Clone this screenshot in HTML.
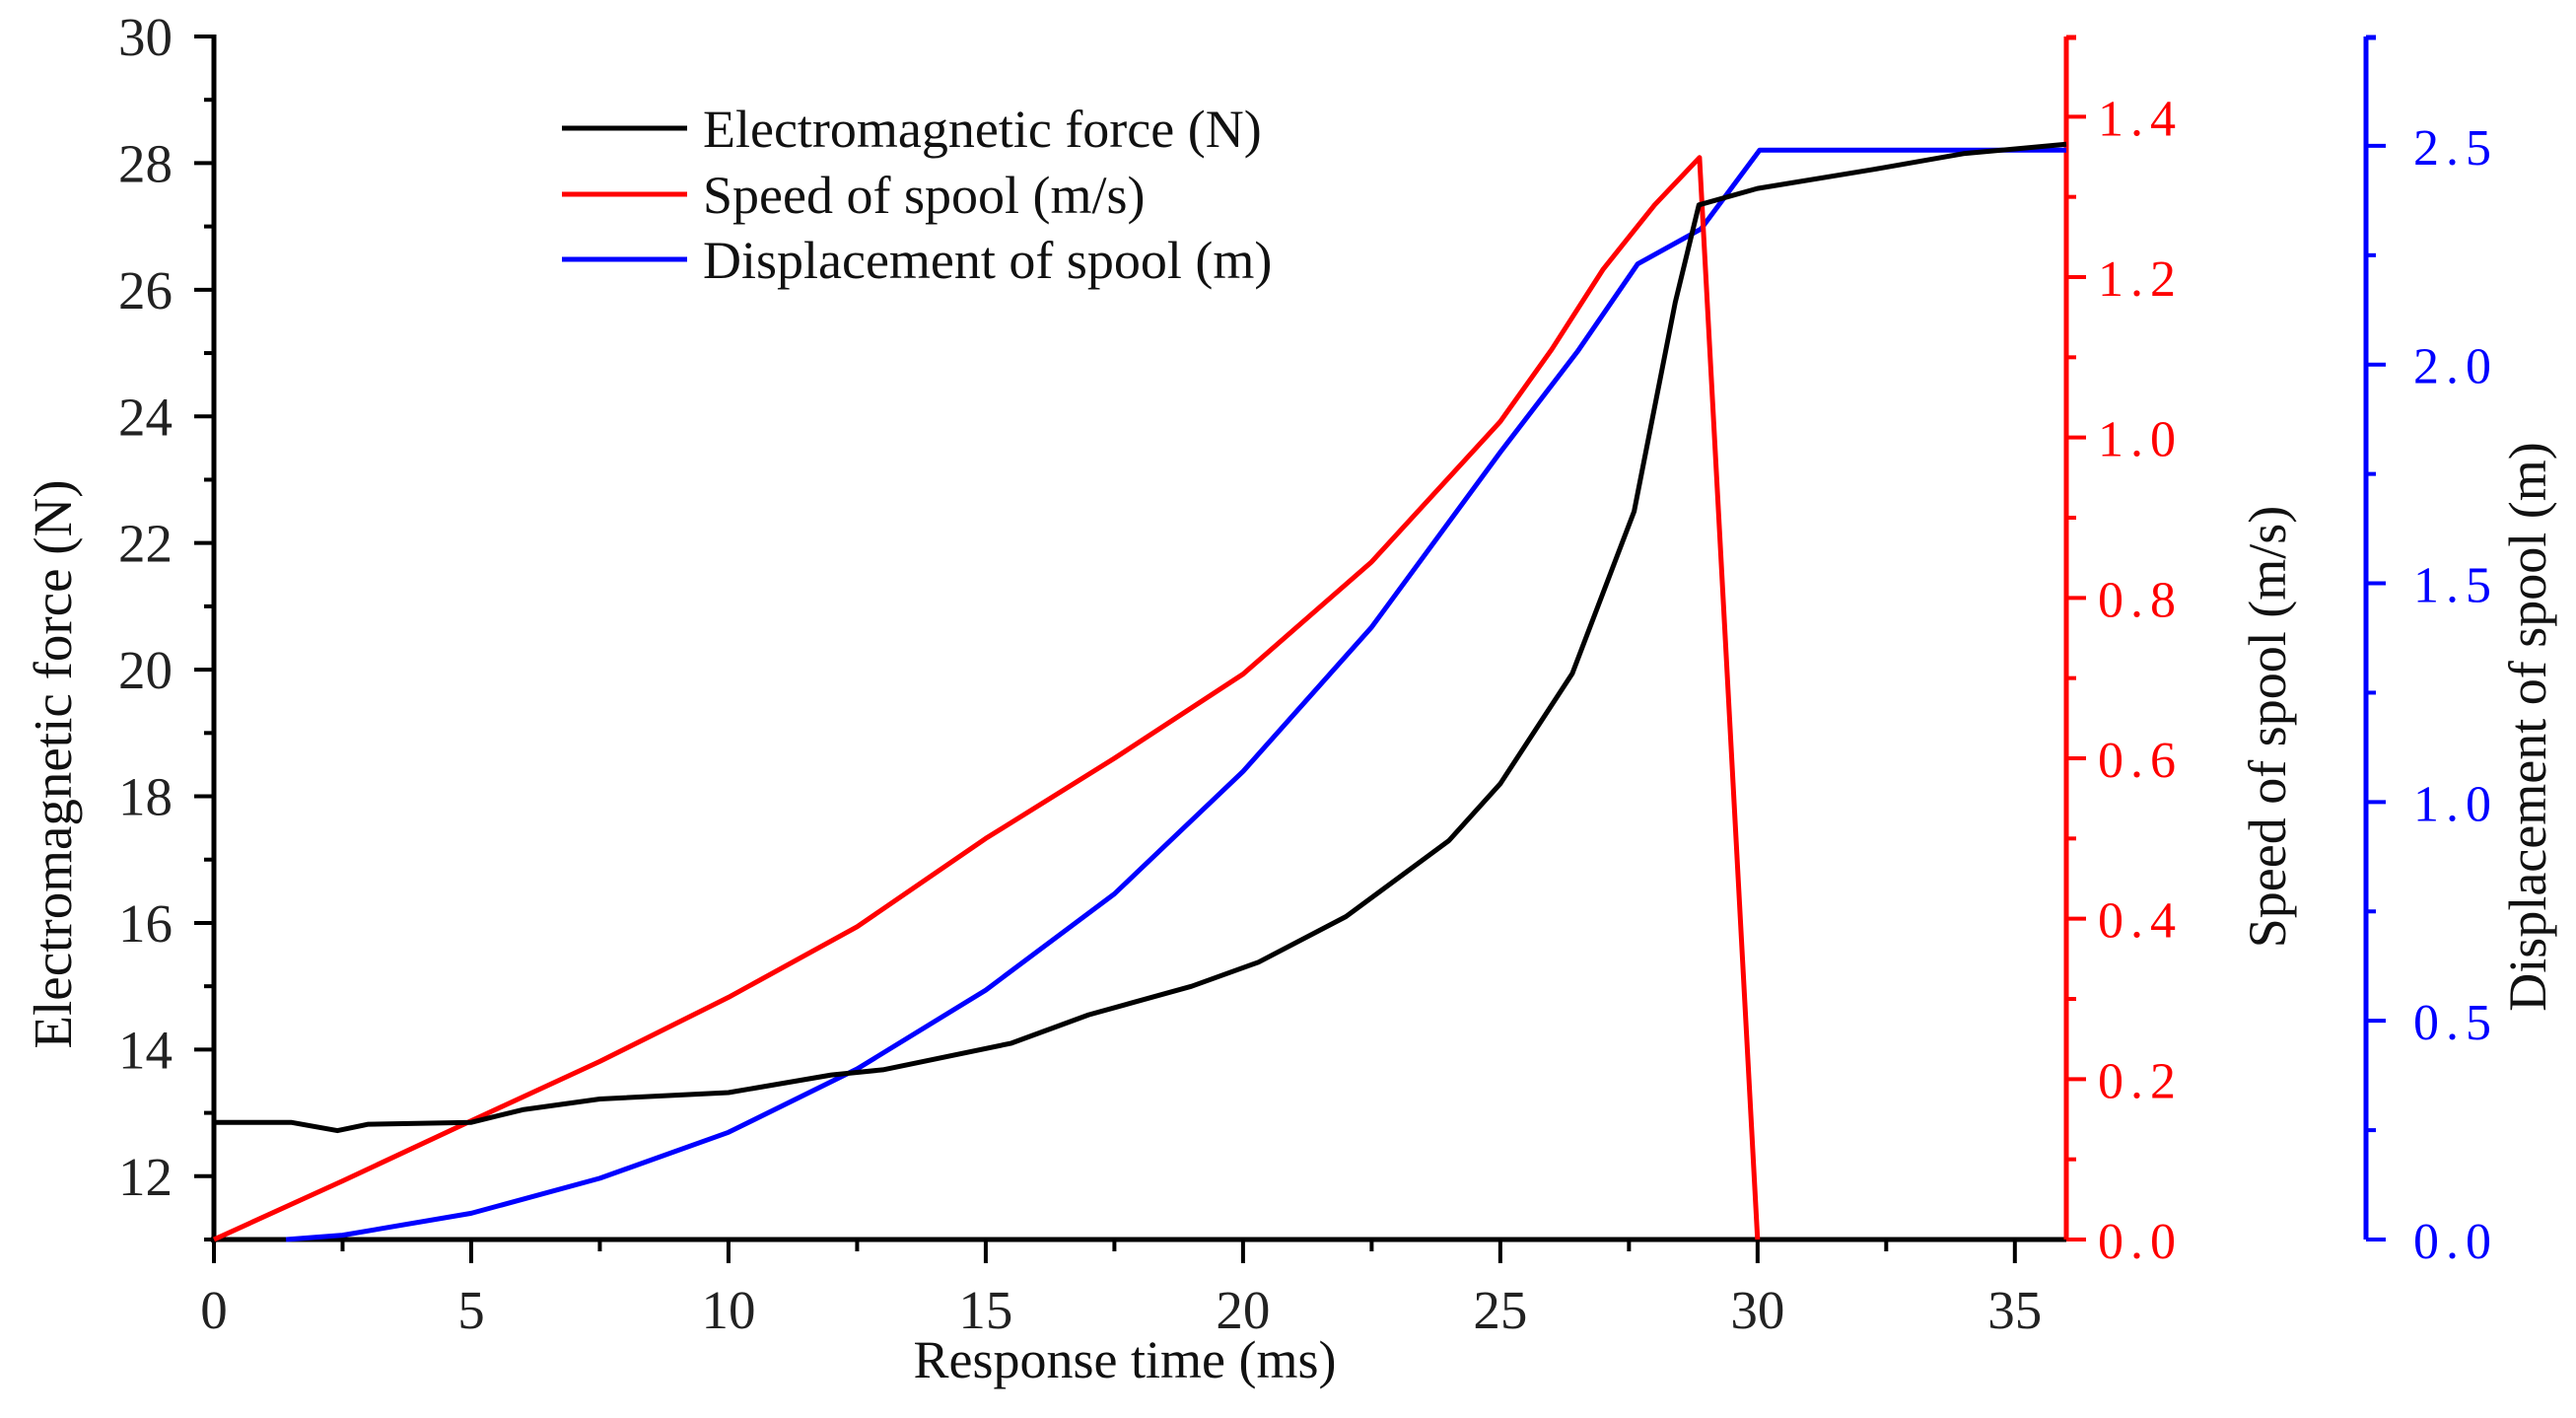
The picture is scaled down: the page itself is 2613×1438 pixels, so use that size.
<!DOCTYPE html>
<html><head><meta charset="utf-8"><style>
html,body{margin:0;padding:0;background:#fff;}
svg{display:block;}
text{font-family:"Liberation Serif","Noto Serif CJK SC",serif;}
</style></head><body>
<svg id="chart" width="2613" height="1438" viewBox="0 0 2613 1438" xmlns="http://www.w3.org/2000/svg">
<g id="axes"></g>
<g id="series"></g>
<g id="legend"></g>
</svg>
<script>
// ---- data ----
const forceT = [0,1.5,2.4,3,5,6,7.5,10,12,13,15.5,17,19,20.3,22,24,25,26.4,27.6,28.4,28.86,30,32.25,34,36];
const forceV = [12.85,12.85,12.72,12.82,12.85,13.05,13.22,13.32,13.6,13.68,14.1,14.55,15,15.38,16.1,17.3,18.2,19.94,22.5,25.8,27.34,27.6,27.9,28.15,28.3];
const speedT = [0,2.5,5,7.5,10,12.5,15,17.5,20,22.5,25,26,27,28,28.87,30];
const speedV = [0,0.073,0.148,0.222,0.302,0.39,0.5,0.6,0.705,0.845,1.02,1.11,1.21,1.29,1.349,0];
const dispT = [1.4,2.5,5,7.5,10,12.5,15,17.5,20,22.5,25,26.5,27.67,28.9,30.04,36];
const dispV = [0,0.01,0.06,0.14,0.245,0.39,0.57,0.79,1.07,1.4,1.8,2.03,2.23,2.31,2.49,2.49];
const xTicks = [0,5,10,15,20,25,30,35];
const leftTicks = [12,14,16,18,20,22,24,26,28,30];
const speedTicks = [0,0.2,0.4,0.6,0.8,1.0,1.2,1.4];
const speedTickLabels = ["0.0","0.2","0.4","0.6","0.8","1.0","1.2","1.4"];
const dispTicks = [0,0.5,1.0,1.5,2.0,2.5];
const dispTickLabels = ["0.0","0.5","1.0","1.5","2.0","2.5"];
const legendLabels = ["Electromagnetic force (N)","Speed of spool (m/s)","Displacement of spool (m)"];

// ---- scales ----
const X0=217, X1=2096, Y0=1257, Y1=37, BX=2400;
const xS = t => X0 + (t-0)/(36-0)*(X1-X0);
const yL = v => Y0 - (v-11)/(30-11)*(Y0-Y1);
const yR = v => Y0 - v/1.5*(Y0-Y1);
const yB = v => Y0 - v/2.75*(Y0-Y1);

const NS="http://www.w3.org/2000/svg";
function mk(tag, attrs, parent){const e=document.createElementNS(NS,tag);for(const k in attrs)e.setAttribute(k,attrs[k]);parent.appendChild(e);return e;}
const axes=document.getElementById('axes'), series=document.getElementById('series'), legend=document.getElementById('legend');

// left axis
let el=mk('line',{x1:X0,y1:Y0+3,x2:X0,y2:Y1-2,stroke:'#000','stroke-width':5},axes);


for(let v=11;v<=30;v++){
  const major=v%2===0;
  el=mk('line',{x1:X0-(major?20:10),y1:yL(v),x2:X0,y2:yL(v),stroke:'#000','stroke-width':4},axes);
  
  
}
leftTicks.forEach(v=>{
  el=mk('text',{x:175,y:yL(v)+19,'text-anchor':'end','font-size':55,fill:'#222'},axes);
  el.textContent=v;
  
  
});
el=mk('text',{x:72,y:775,'text-anchor':'middle','font-size':55,fill:'#111',transform:'rotate(-90 72 775)'},axes);
el.textContent='Electromagnetic force (N)';



// x axis
el=mk('line',{x1:X0-3,y1:Y0,x2:X1,y2:Y0,stroke:'#000','stroke-width':5},axes);


for(let t=0;t<=35;t+=2.5){
  const major=t%5===0;
  el=mk('line',{x1:xS(t),y1:Y0,x2:xS(t),y2:Y0+(major?24:12),stroke:'#000','stroke-width':4},axes);
  
  
}
xTicks.forEach(t=>{
  el=mk('text',{x:xS(t),y:1347,'text-anchor':'middle','font-size':55,fill:'#222'},axes);
  el.textContent=t;
  
  
});
el=mk('text',{x:1141,y:1397,'text-anchor':'middle','font-size':54,fill:'#111'},axes);
el.textContent='Response time  (ms)';



// red axis
el=mk('line',{x1:X1,y1:Y0,x2:X1,y2:Y1,stroke:'#f00','stroke-width':5},axes);


el=mk('line',{x1:X1,y1:Y1+1,x2:X1+10,y2:Y1+1,stroke:'#f00','stroke-width':5},axes);


for(let i=0;i<=14;i++){
  const v=i/10, major=i%2===0;
  el=mk('line',{x1:X1,y1:yR(v),x2:X1+(major?20:10),y2:yR(v),stroke:'#f00','stroke-width':4},axes);
  
  
}
speedTicks.forEach((v,i)=>{
  el=mk('text',{x:2128,y:yR(v)+19,'font-size':52,fill:'#f00','letter-spacing':'7'},axes);
  el.textContent=speedTickLabels[i];
  
  
});
el=mk('text',{x:2318,y:737,'text-anchor':'middle','font-size':54,fill:'#111',transform:'rotate(-90 2318 737)'},axes);
el.textContent='Speed of spool (m/s)';



// blue axis
el=mk('line',{x1:BX,y1:Y0,x2:BX,y2:Y1,stroke:'#00f','stroke-width':5},axes);


el=mk('line',{x1:BX,y1:Y1+1,x2:BX+10,y2:Y1+1,stroke:'#00f','stroke-width':5},axes);


for(let i=0;i<=10;i++){
  const v=i*0.25, major=i%2===0;
  el=mk('line',{x1:BX,y1:yB(v),x2:BX+(major?20:10),y2:yB(v),stroke:'#00f','stroke-width':4},axes);
  
  
}
dispTicks.forEach((v,i)=>{
  el=mk('text',{x:2448,y:yB(v)+19,'font-size':52,fill:'#00f','letter-spacing':'7'},axes);
  el.textContent=dispTickLabels[i];
  
  
});
el=mk('text',{x:2582,y:737,'text-anchor':'middle','font-size':54,fill:'#111',transform:'rotate(-90 2582 737)'},axes);
el.textContent='Displacement of spool (m)';



// series
function pts(T,V,ys){return T.map((t,i)=>xS(t).toFixed(1)+','+ys(V[i]).toFixed(1)).join(' ');}
el=mk('polyline',{points:pts(dispT,dispV,yB),fill:'none',stroke:'#00f','stroke-width':5,'stroke-linejoin':'round'},series);


el=mk('polyline',{points:pts(speedT,speedV,yR),fill:'none',stroke:'#f00','stroke-width':5,'stroke-linejoin':'round'},series);


el=mk('polyline',{points:pts(forceT,forceV,yL),fill:'none',stroke:'#000','stroke-width':5,'stroke-linejoin':'round'},series);



// legend
const lc=['#000','#f00','#00f'], ly=[130,197,263];
legendLabels.forEach((s,i)=>{
  el=mk('line',{x1:570,y1:ly[i],x2:697,y2:ly[i],stroke:lc[i],'stroke-width':5},legend);
  
  
  el=mk('text',{x:713,y:ly[i]+19,'font-size':54,fill:'#111'},legend);
  el.textContent=s;
  
  
});
</script>
</body></html>
